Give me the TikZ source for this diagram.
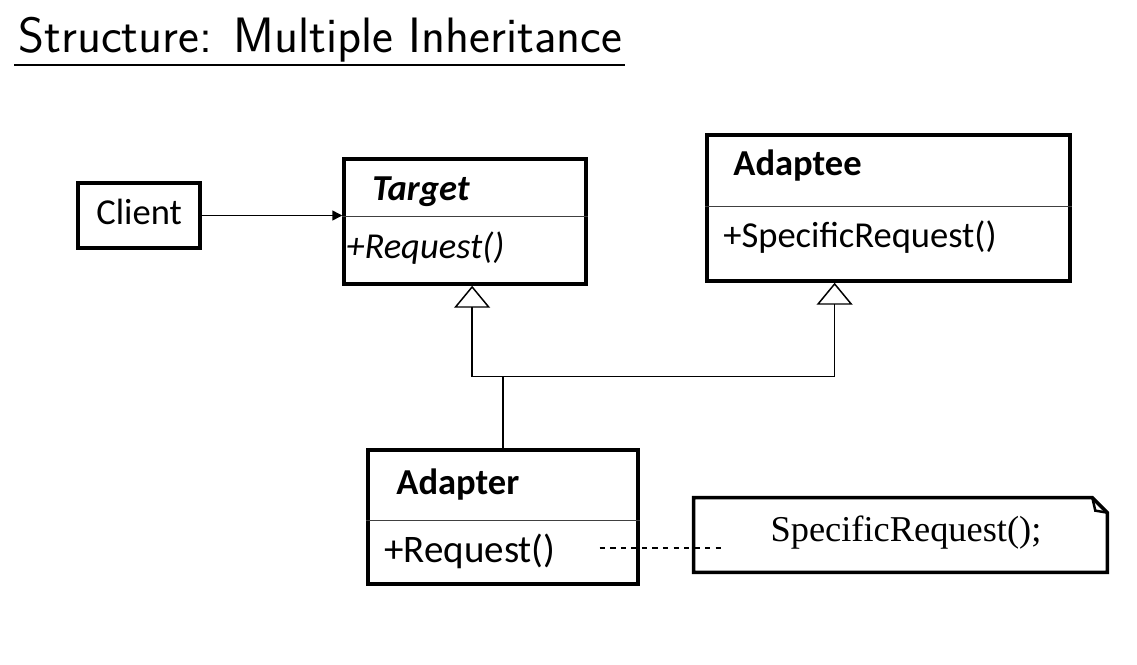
\documentclass[tikz,border=0pt]{standalone}
\usepackage{fontspec}
\newfontfamily\umlfont{Carlito}
\newfontfamily\notefont{Liberation Serif}
\usetikzlibrary{calc,positioning,arrows.meta}

\tikzset{
  classbox/.style={draw,line width=2pt,inner sep=0pt},
  divider/.style={line width=0.8pt,black!75},
  member/.style={anchor=base west,inner sep=0pt,font=\umlfont\fontsize{20.8}{24}\selectfont},
  inherit/.style={line width=0.85pt,-{Triangle[open,length=0.44cm,width=0.72cm]}},
  assoc/.style={line width=0.85pt,-{Triangle[length=0.2cm,width=0.2cm]}},
  noteline/.style={line width=0.6pt,dashed}
}

\begin{document}
\begin{tikzpicture}[x=0.02cm,y=-0.02cm,inner sep=0pt]
\useasboundingbox (0,0) rectangle (1137,664);

\node[anchor=base west,font=\sffamily\fontsize{28.3}{32}\selectfont] (title) at (18,52) {Structure: Multiple Inheritance};
\draw[line width=0.9pt] ($(title.base west)+(-4,13)$) -- ($(title.base east)+(2,13)$);

\node[classbox,minimum width=2.44cm,minimum height=1.3cm] (client) at (139,215.5) {};
\node[classbox,minimum width=4.84cm,minimum height=2.5cm] (target) at (465,221.5) {};
\node[classbox,minimum width=7.26cm,minimum height=2.92cm] (adaptee) at (888.5,208) {};
\node[classbox,minimum width=5.4cm,minimum height=2.68cm] (adapter) at (503,517) {};
\node[minimum width=8.26cm,minimum height=1.48cm] (note) at (900.5,535) {};

\draw[divider] ($(target.north west)+(0,59)$) -- ($(target.north east)+(0,59)$);
\draw[divider] ($(adaptee.north west)+(0,73)$) -- ($(adaptee.north east)+(0,73)$);
\draw[divider] ($(adapter.north west)+(0,72)$) -- ($(adapter.north east)+(0,72)$);

\node[member] (clientname) at (96,224) {Client};
\node[member] (targetname) at (372,200) {\bfseries\itshape Target};
\node[member] (targetop) at (346,258) {\itshape +Request()};
\node[member] (adapteename) at (733,175) {\bfseries Adaptee};
\node[member] (adapteeop) at (723,247) {+SpecificRequest()};
\node[member] (adaptername) at (396,494) {\bfseries Adapter};
\node[member,font=\umlfont\fontsize{22.2}{26}\selectfont] (adapterop) at (384,562) {+Request()};

\draw[line width=2pt] (note.south west) -- (note.north west) -- ($(note.north east)+(-15,0)$) -- ($(note.north east)+(0,15)$) -- (note.south east) -- cycle;
\draw[line width=1.4pt] ($(note.north east)+(-15,0)$) -- ($(note.north east)+(-12,13)$) -- ($(note.north east)+(0,15)$);
\node[anchor=base,font=\notefont\fontsize{20.7}{24}\selectfont] (notetext) at (906,541) {SpecificRequest();};

\coordinate (bus) at ($(adapter.north)+(0,-72)$);
\coordinate (tgtfoot) at ($(target.south west)!0.529!(target.south east)$);
\coordinate (adpfoot) at ($(adaptee.south west)!0.353!(adaptee.south east)$);
\draw[inherit] (adapter.north) -- (bus) -| (tgtfoot);
\draw[inherit] (bus) -| (adpfoot);
\draw[assoc] (client.east) -- (client.east -| target.west);

\coordinate (opend) at ($(adapter.east)+(-40,31)$);
\coordinate (noteend) at ($(note.west)+(28,13)$);
\draw[noteline] (opend) -- (noteend);
\end{tikzpicture}
\end{document}
